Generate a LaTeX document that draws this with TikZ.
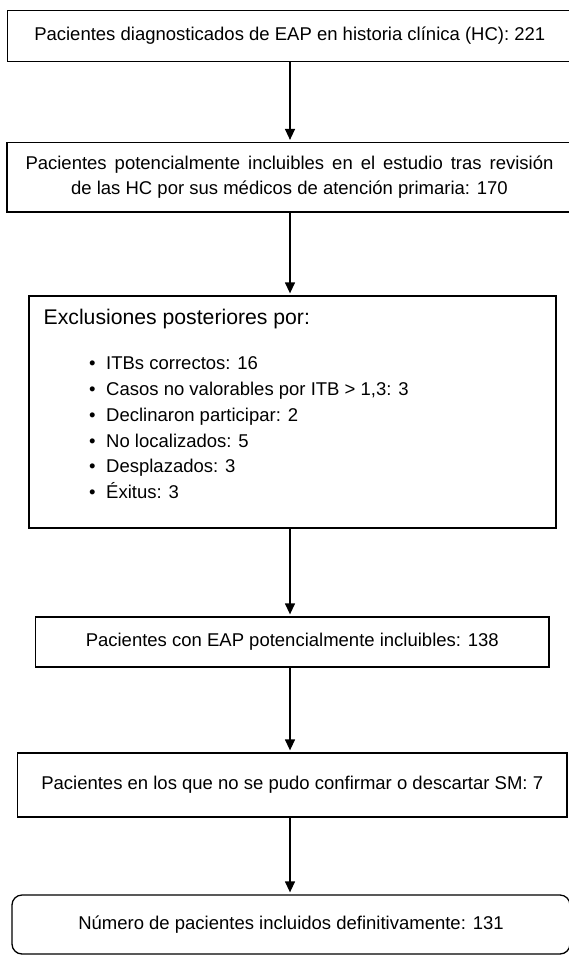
\documentclass[tikz,border=0pt]{standalone}
\usepackage{fontspec}
\setmainfont{Liberation Sans}
\usetikzlibrary{arrows.meta}
\newcommand{\chartfont}{\fontsize{18.5}{25}\selectfont}
\newcommand{\titlefont}{\fontsize{21.2}{26}\selectfont}

\begin{document}
\begin{tikzpicture}[x=1pt,y=1pt,
  flowbox/.style={draw,line width=1.3pt,inner sep=0pt,align=center,font=\chartfont},
  onerow/.style={flowbox,text height=13.5pt,text depth=4pt},
  listtext/.style={inner sep=0pt,anchor=base west,font=\chartfont},
  flowarrow/.style={line width=1.3pt,-{Triangle[width=10pt,length=11pt]},shorten >=2pt}]
\useasboundingbox (0,0) rectangle (569,-956);
\coordinate (axis) at (290,0);
\node[onerow,minimum width=564pt,minimum height=51pt] (diag) at (289.8,-36) {Pacientes diagnosticados de EAP en historia clínica (HC): 221};
\node[flowbox,minimum width=565pt,minimum height=69.5pt] (revis) at (289.5,-177.3) {\makebox[528pt][s]{Pacientes potencialmente incluibles en el estudio tras revisión}\\ de las HC por sus médicos de atención primaria: 170};
\node[flowbox,minimum width=527pt,minimum height=232pt] (excl) at (292.5,-412) {};
\node[listtext,font=\titlefont] (excltitle) at (43.5,-324.6) {Exclusiones posteriores por:};
\foreach \n/\entry in {1/{ITBs correctos: 16},2/{Casos no valorables por ITB > 1,3: 3},3/{Declinaron participar: 2},4/{No localizados: 5},5/{Desplazados: 3},6/{Éxitus: 3}}
  {\node[listtext] (item\n) at (89,{-369.6-25.8*(\n-1)}) {\makebox[17pt][l]{\textbullet}\entry};}
\node[onerow,minimum width=513.4pt,minimum height=50pt] (eap) at (292.3,-642) {Pacientes con EAP potencialmente incluibles: 138};
\node[onerow,minimum width=549.6pt,minimum height=64pt] (unsure) at (292.2,-785) {Pacientes en los que no se pudo confirmar o descartar SM: 7};
\node[onerow,rounded corners=10pt,minimum width=558pt,minimum height=59pt] (final) at (291,-924.5) {Número de pacientes incluidos definitivamente: 131};
% conectores
\draw[flowarrow] (diag.south -| axis) -- (revis.north -| axis);
\draw[flowarrow] (revis.south -| axis) -- (excl.north -| axis);
\draw[flowarrow] (excl.south -| axis) -- (eap.north -| axis);
\draw[flowarrow] (eap.south -| axis) -- (unsure.north -| axis);
\draw[flowarrow] (unsure.south -| axis) -- (final.north -| axis);
\end{tikzpicture}
\end{document}
